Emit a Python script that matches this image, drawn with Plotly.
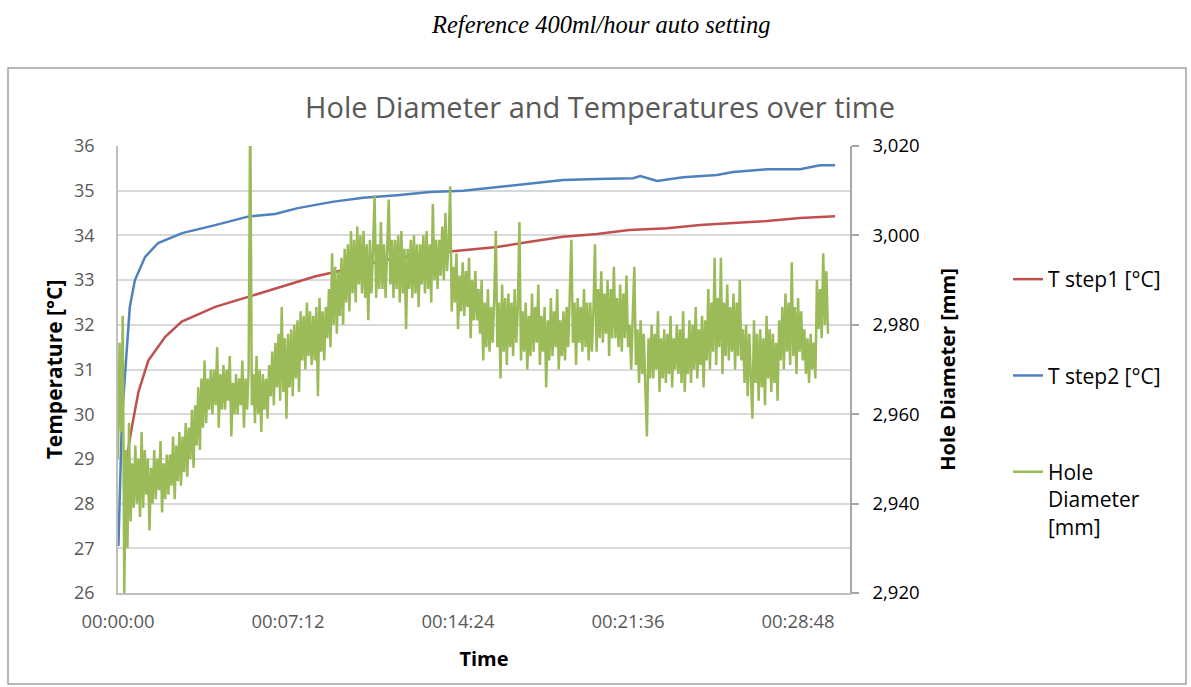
import plotly.graph_objects as go

# ---- data ----
# T step2 (blue), time in seconds
t2_time = [1, 4, 5, 10, 18, 23, 30, 43, 69, 102, 163, 247, 330, 399, 457, 544, 623, 709,
           793, 877, 963, 1047, 1131, 1217, 1309, 1327, 1370, 1436, 1522, 1563, 1649, 1733,
           1784, 1822]
t2_vals = [27.05, 28.0, 28.75, 29.9, 30.9, 31.6, 32.4, 33.0, 33.52, 33.83, 34.05, 34.23,
           34.42, 34.48, 34.61, 34.75, 34.84, 34.9, 34.97, 35.0, 35.08, 35.17, 35.24, 35.26,
           35.28, 35.33, 35.22, 35.3, 35.35, 35.42, 35.48, 35.48, 35.57, 35.57]

# T step1 (red)
t1_time = [20, 35, 52, 77, 120, 162, 247, 331, 416, 500, 577, 623, 709, 793, 877, 963,
           1047, 1131, 1217, 1299, 1395, 1479, 1563, 1649, 1733, 1822]
t1_vals = [28.9, 29.7, 30.5, 31.2, 31.73, 32.07, 32.4, 32.63, 32.85, 33.08, 33.23, 33.34,
           33.5, 33.6, 33.67, 33.74, 33.86, 33.97, 34.03, 34.12, 34.16, 34.23, 34.28, 34.32,
           34.39, 34.43]

# Hole diameter (green), one sample every 4 s
hole_step_s = 4
hole_vals = [
    2950, 2976, 2956, 2982, 2920, 2952, 2930, 2958, 2936, 2949, 2939, 2953,
    2940, 2950, 2937, 2956, 2939, 2952, 2942, 2950, 2934, 2948, 2940, 2952,
    2941, 2950, 2943, 2954, 2938, 2949, 2941, 2951, 2942, 2951, 2944, 2955,
    2941, 2953, 2945, 2956, 2944, 2955, 2947, 2958, 2946, 2957, 2950, 2961,
    2948, 2962, 2953, 2966, 2952, 2968, 2957, 2972, 2958, 2968, 2961, 2970,
    2960, 2970, 2962, 2975, 2957, 2969, 2961, 2971, 2961, 2970, 2963, 2973,
    2955, 2967, 2960, 2969, 2960, 2968, 2962, 2972, 2957, 2968, 2961, 2970,
    3030, 2962, 2969, 2958, 2973, 2960, 2970, 2956, 2969, 2961, 2968, 2959,
    2971, 2964, 2974, 2962, 2976, 2966, 2978, 2963, 2984, 2965, 2977, 2959,
    2978, 2966, 2979, 2964, 2980, 2968, 2981, 2965, 2983, 2972, 2982, 2970,
    2985, 2973, 2983, 2971, 2982, 2972, 2984, 2964, 2986, 2974, 2983, 2972,
    2984, 2977, 2988, 2975, 2996, 2980, 2993, 2978, 2992, 2982, 2995, 2980,
    2997, 2985, 2998, 2983, 3001, 2987, 2999, 2985, 3002, 2989, 3000, 2987,
    3001, 2986, 2998, 2981, 2999, 2987, 2997, 3009, 2986, 2998, 2988, 3003,
    2988, 2998, 2986, 3000, 3008, 2989, 2999, 2986, 2999, 2988, 3000, 2985,
    3001, 2987, 2997, 2979, 2997, 2988, 2999, 2986, 3000, 2987, 2998, 2984,
    2998, 2989, 3000, 2987, 3001, 2988, 2998, 2985, 3007, 2990, 2999, 2988,
    2999, 2991, 3002, 2990, 3005, 2992, 2998, 3011, 2983, 2993, 2985, 2996,
    2979, 2991, 2983, 2994, 2982, 2992, 2984, 2995, 2977, 2990, 2981, 2992,
    2981, 2988, 2978, 2990, 2972, 2985, 2975, 2988, 2974, 2984, 2976, 2986,
    3001, 2975, 2985, 2968, 2989, 2974, 2986, 2971, 2987, 2975, 2985, 2973,
    2988, 2976, 2984, 3003, 2972, 2983, 2974, 2985, 2970, 2982, 2973, 2987,
    2974, 2984, 2976, 2989, 2971, 2982, 2974, 2984, 2966, 2981, 2972, 2986,
    2973, 2983, 2975, 2988, 2970, 2981, 2973, 2983, 2972, 2984, 2975, 2987,
    2999, 2976, 2985, 2971, 2986, 2976, 2984, 2974, 2988, 2975, 2985, 2972,
    2985, 2974, 2983, 2998, 2974, 2988, 2977, 2992, 2976, 2987, 2978, 2990,
    2973, 2988, 2977, 2993, 2977, 2986, 2975, 2989, 2974, 2987, 2977, 2991,
    2975, 2980, 2970, 2982, 2993, 2971, 2979, 2967, 2981, 2969, 2978, 2966,
    2955, 2977, 2968, 2980, 2968, 2978, 2970, 2983, 2965, 2977, 2968, 2979,
    2967, 2978, 2969, 2982, 2966, 2977, 2970, 2980, 2969, 2979, 2967, 2983,
    2965, 2977, 2969, 2981, 2967, 2980, 2970, 2984, 2968, 2979, 2971, 2982,
    2966, 2981, 2972, 2988, 2970, 2985, 2974, 2995, 2971, 2986, 2975, 2995,
    2969, 2985, 2973, 2989, 2972, 2984, 2974, 2987, 2970, 2985, 2973, 2990,
    2972, 2979, 2967, 2980, 2964, 2978, 2966, 2959, 2981, 2967, 2978, 2963,
    2979, 2966, 2977, 2962, 2982, 2968, 2979, 2965, 2978, 2967, 2976, 2963,
    2981, 2972, 2984, 2970, 2987, 2974, 2985, 2971, 2994, 2973, 2984, 2969,
    2986, 2974, 2983, 2972, 2979, 2969, 2977, 2967, 2978, 2970, 2976, 2968,
    2990, 2979, 2988, 2977, 2996, 2980, 2992, 2978,
]
hole_time = [i * hole_step_s for i in range(len(hole_vals))]

x_tick_vals = [0, 432, 864, 1296, 1728]
x_tick_text = ["00:00:00", "00:07:12", "00:14:24", "00:21:36", "00:28:48"]

# ---- figure ----
W, H = 1191, 687
L, R, T, B = 118, 850, 146, 593
pw, ph = R - L, B - T


def px(x):
    return (x - L) / pw


def py(y):
    return (B - y) / ph


FONT = "Open Sans"
GRAY = "#595959"

fig = go.Figure()
fig.add_trace(go.Scatter(x=t1_time, y=t1_vals, mode="lines", name="T step1 [°C]",
                         line=dict(color="#C0504D", width=2.5), legendgroup="a"))
fig.add_trace(go.Scatter(x=t2_time, y=t2_vals, mode="lines", name="T step2 [°C]",
                         line=dict(color="#4F81BD", width=2.5), legendgroup="b"))
fig.add_trace(go.Scatter(x=hole_time, y=hole_vals, mode="lines",
                         name="Hole<br>Diameter<br>[mm]", yaxis="y2",
                         line=dict(color="#9BBB59", width=2.5), legendgroup="c"))

fig.update_layout(
    width=W, height=H,
    margin=dict(l=L, r=W - R, t=T, b=H - B, pad=0),
    paper_bgcolor="white", plot_bgcolor="white",
    font=dict(family=FONT, color=GRAY),
    showlegend=True,
    title=dict(text="Hole Diameter and Temperatures over time",
               font=dict(family=FONT, size=29, color=GRAY),
               x=px(600), xref="paper", xanchor="center",
               y=1 - 108 / H, yref="container", yanchor="middle"),
    xaxis=dict(range=[0, 1860], tickvals=x_tick_vals, ticktext=x_tick_text,
               showgrid=False, zeroline=False, showline=True, linecolor="#BFBFBF",
               linewidth=1.5, ticks="", ticklabelstandoff=11,
               tickfont=dict(family=FONT, size=18.5, color=GRAY),
               title=dict(text="<b>Time</b>", standoff=20,
                          font=dict(family=FONT, size=20, color="black"))),
    yaxis=dict(range=[26, 36], dtick=1, showgrid=True, gridcolor="#D9D9D9", gridwidth=1.5,
               zeroline=False, showline=True, linecolor="#BFBFBF", linewidth=1.5,
               ticks="", ticklabelstandoff=18,
               tickfont=dict(family=FONT, size=18, color=GRAY),
               title=dict(text="<b>Temperature [°C]</b>", standoff=6,
                          font=dict(family=FONT, size=21, color="black"))),
    yaxis2=dict(range=[2920, 3020], dtick=20, tickformat=",d", overlaying="y", side="right",
                showgrid=False, zeroline=False, showline=True, linecolor="#A6A6A6",
                linewidth=1.5, ticks="outside", ticklen=7, tickcolor="#A6A6A6",
                tickwidth=1.5, ticklabelstandoff=10,
                tickfont=dict(family=FONT, size=18.5, color="black"),
                title=dict(text="<b>Hole Diameter [mm]</b>", standoff=22,
                           font=dict(family=FONT, size=20, color="black"))),
    legend=dict(x=px(1008), xanchor="left", y=py(259), yanchor="top",
                font=dict(family=FONT, size=21, color="black"),
                tracegroupgap=66, valign="top", bgcolor="rgba(0,0,0,0)"),
    shapes=[dict(type="rect", xref="paper", yref="paper",
                 x0=px(8), x1=px(1186), y0=py(684), y1=py(68),
                 line=dict(color="#A0A0A0", width=1.5), layer="below")],
    annotations=[dict(text="<i>Reference 400ml/hour auto setting</i>",
                      xref="paper", yref="paper", x=px(601), y=py(25),
                      xanchor="center", yanchor="middle", showarrow=False,
                      font=dict(family="Liberation Serif", size=24.5, color="black"))],
)

fig.write_html("out.html")
